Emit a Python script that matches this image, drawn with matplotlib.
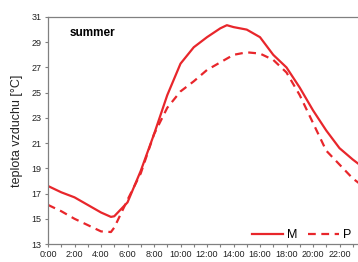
import matplotlib
matplotlib.use("Agg")
import matplotlib.pyplot as plt
from matplotlib.ticker import MultipleLocator

plt.rcParams['font.family'] = ['Liberation Sans', 'DejaVu Sans']

hours = [0, 1, 2, 3, 4, 4.75, 5, 6, 7, 8, 9, 10, 11, 12, 13, 13.5, 14, 15, 16, 17, 18, 19, 20, 21, 22, 23, 23.5]
m_vals = [17.6, 17.1, 16.7, 16.1, 15.5, 15.15, 15.2, 16.3, 18.8, 21.7, 24.8, 27.3, 28.6, 29.4, 30.1, 30.35, 30.2, 30.0, 29.4, 28.0, 27.0, 25.4, 23.6, 22.0, 20.6, 19.7, 19.3]
p_vals = [16.1, 15.6, 15.0, 14.5, 14.0, 13.95, 14.3, 16.5, 18.6, 21.7, 23.8, 25.1, 25.9, 26.8, 27.4, 27.7, 28.0, 28.2, 28.1, 27.6, 26.6, 24.8, 22.6, 20.4, 19.3, 18.2, 17.8]
xtick_labels = ["0:00", "2:00", "4:00", "6:00", "8:00", "10:00", "12:00", "14:00", "16:00", "18:00", "20:00", "22:00"]
yticks = [13, 15, 17, 19, 21, 23, 25, 27, 29, 31]

W, H = 358, 262
fig = plt.figure(figsize=(W/100, H/100), dpi=100)
x0, x1 = 48/W, 366/W
y0, y1 = 1 - 244/H, 1 - 17/H
ax = fig.add_axes([x0, y0, x1 - x0, y1 - y0])

red = '#e8262b'
ax.plot(hours, m_vals, color=red, lw=1.6, label='M')
ax.plot(hours, p_vals, color=red, lw=1.6, ls=(0, (3.5, 2.5)), label='P')

ax.set_xlim(0, 24)
ax.set_ylim(13, 31)
ax.set_xticks(list(range(0, 24, 2)))
ax.set_xticklabels(xtick_labels, fontsize=6.5, color='#222222')
ax.xaxis.set_minor_locator(MultipleLocator(1))
ax.set_yticks(yticks)
ax.set_yticklabels([str(v) for v in yticks], fontsize=6.5, color='#222222')
ax.tick_params(axis='both', which='both', direction='out', length=2.5, width=0.8, color='#808080', pad=2)
for s in ax.spines.values():
    s.set_color('#808080')
    s.set_linewidth(0.9)

ax.set_ylabel('teplota vzduchu [°C]', fontsize=9, color='#222222', labelpad=6)
ax.text(0.068, 0.955, 'summer', transform=ax.transAxes, fontsize=8.5, fontweight='bold', va='top', ha='left')

leg = ax.legend(loc='lower right', bbox_to_anchor=((354 - 48) / (366 - 48), 0.0), ncol=2, frameon=False,
                fontsize=9, handlelength=2.5, handletextpad=0.3, columnspacing=0.9, borderaxespad=0.0,
                borderpad=0.2)

fig.savefig('out.png', dpi=100)
